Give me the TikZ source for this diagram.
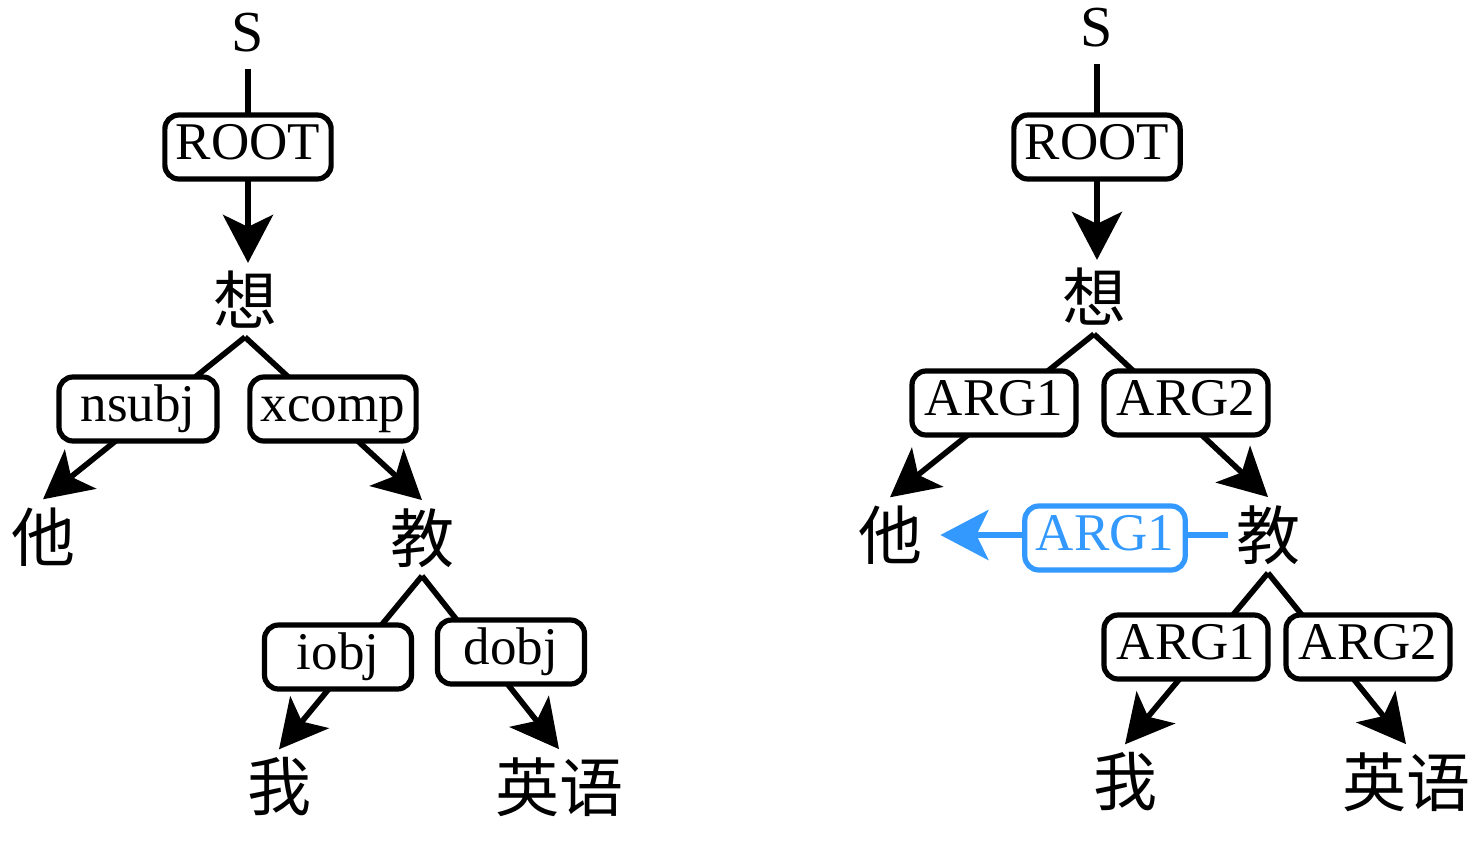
\documentclass[tikz,border=0pt]{standalone}
\usepackage{fontspec}
\setmainfont{Liberation Serif}
\newfontfamily\cjk{Noto Sans CJK SC}
\usetikzlibrary{arrows.meta}
\definecolor{arg_blue}{RGB}{51,153,255}
\tikzstyle{wd}=[font=\cjk\fontsize{32}{36}\selectfont,inner sep=4pt]
\tikzstyle{sym}=[font=\fontsize{29}{33}\selectfont,inner sep=8pt]
\tikzstyle{lbl}=[draw=black,fill=white,rounded corners=7pt,line width=2.6pt,
  font=\fontsize{26.5}{30}\selectfont,text height=18.5pt,text depth=6pt,
  inner xsep=5.5pt,minimum width=73.5pt,minimum height=32pt]
\tikzstyle{arg}=[style=lbl,minimum width=82pt]
\tikzstyle{argb}=[style=arg,draw=arg_blue,text=arg_blue,minimum width=80pt]
\tikzstyle{edge}=[line width=2.8pt]
\tikzstyle{arr}=[style=edge,-{Stealth[length=24pt,width=25pt,inset=6pt]}]
\tikzstyle{barr}=[style=arr,draw=arg_blue,fill=arg_blue,shorten >=5pt]

\begin{document}
\begin{tikzpicture}[x=0.5pt,y=-0.5pt]
        \useasboundingbox (0,0) rectangle (1478,842);
        % dependency tree
        \node[style=sym] (0) at (248,33) {S};
        \node[style=wd] (1) at (245,300) {想};
        \node[style=wd] (2) at (43,537) {他};
        \node[style=wd] (3) at (422,538) {教};
        \node[style=wd] (4) at (279,787) {我};
        \node[style=wd] (5) at (559,787) {英语};
        % predicate-argument structure
        \node[style=sym] (11) at (1097,28) {S};
        \node[style=wd] (12) at (1094,297) {想};
        \node[style=wd] (13) at (890,535) {他};
        \node[style=wd] (14) at (1268,535) {教};
        \node[style=wd] (15) at (1125,782) {我};
        \node[style=wd] (16) at (1406,782) {英语};
        \draw[style=arr] (0.south) to (0.south |- 1.north);
        \draw[style=arr] (1.south) to (2.north);
        \draw[style=arr] (1.south) to (3.north);
        \draw[style=arr] (3.south) to (4.north);
        \draw[style=arr] (3.south) to (5.north);
        \draw[style=arr] (11.south) to (11.south |- 12.north);
        \draw[style=arr] (12.south) to (13.north);
        \draw[style=arr] (12.south) to (14.north);
        \draw[style=arr] (14.south) to (15.north);
        \draw[style=arr] (14.south) to (16.north);
        \draw[style=barr] (14.west) to (13.east);
        % edge labels
        \node[style=lbl] (6) at (248,147) {ROOT};
        \node[style=lbl,minimum width=79pt] (7) at (138,409) {nsubj};
        \node[style=lbl] (8) at (333,409) {xcomp};
        \node[style=lbl] (9) at (338,657) {iobj};
        \node[style=lbl] (10) at (511,652) {dobj};
        \node[style=lbl] (17) at (1097,147) {ROOT};
        \node[style=arg] (18) at (994,403) {ARG1};
        \node[style=arg] (19) at (1186,403) {ARG2};
        \node[style=argb] (20) at (1105,538) {ARG1};
        \node[style=arg] (21) at (1186,647) {ARG1};
        \node[style=arg] (22) at (1368,647) {ARG2};
\end{tikzpicture}
\end{document}
